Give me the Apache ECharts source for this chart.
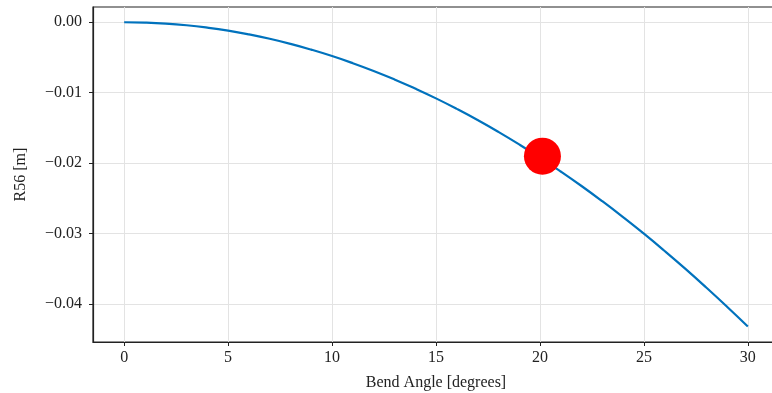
<!DOCTYPE html>
<html>
<head>
<meta charset="utf-8">
<script src="https://cdn.jsdelivr.net/npm/echarts@6/dist/echarts.min.js"></script>
<style>
  html, body { margin: 0; padding: 0; background: #fff; }
  #chart { width: 772px; height: 393px; }
</style>
</head>
<body>
<div id="chart"></div>
<script>
// bend angle in degrees
var angles = [0, 1, 2, 3, 4, 5, 6, 7, 8, 9, 10, 11, 12, 13, 14, 15,
  16, 17, 18, 19, 20, 21, 22, 23, 24, 25, 26, 27, 28, 29, 30];
// R56 in metres
var r56 = [0, -0.00005, -0.00019, -0.00043, -0.00077, -0.00120, -0.00173,
  -0.00235, -0.00307, -0.00389, -0.00480, -0.00581, -0.00691, -0.00811,
  -0.00941, -0.01080, -0.01229, -0.01387, -0.01555, -0.01733, -0.01920,
  -0.02117, -0.02323, -0.02539, -0.02765, -0.03000, -0.03245, -0.03499,
  -0.03763, -0.04035, -0.04315];
// operating point marked in red
var marker = [[20.12, -0.0190]];

var xTicks = [0, 5, 10, 15, 20, 25, 30];
var yTicks = [0, -0.01, -0.02, -0.03, -0.04];

var serif = '"Liberation Serif", "DejaVu Serif", serif';

var chart = echarts.init(document.getElementById('chart'));
var lineData = angles.map(function (a, i) { return [a, r56[i]]; });

var option = {
  animation: false,
  grid: {
    left: 93, top: 7, right: -7, bottom: 51,
    outerBoundsMode: 'none',
    containLabel: false,
    show: true, borderColor: '#222', borderWidth: 1.2,
    backgroundColor: 'transparent'
  },
  xAxis: {
    type: 'value',
    min: -1.5, max: 31.5,
    name: 'Bend Angle [degrees]',
    nameLocation: 'middle',
    nameGap: 33,
    nameTextStyle: { fontFamily: serif, fontSize: 16, color: '#222' },
    axisLine: { onZero: false, lineStyle: { color: '#222', width: 1.2 } },
    axisTick: { length: 4, lineStyle: { color: '#222' }, customValues: xTicks },
    axisLabel: {
      customValues: xTicks, margin: 8,
      fontFamily: serif, fontSize: 16, color: '#222'
    },
    splitLine: { show: true, lineStyle: { color: '#e3e3e3', width: 1 } }
  },
  yAxis: {
    type: 'value',
    min: -0.04536, max: 0.00216,
    name: 'R56 [m]',
    nameLocation: 'middle',
    nameRotate: 90,
    nameGap: 64,
    nameTextStyle: { fontFamily: serif, fontSize: 16, color: '#222' },
    axisLine: { show: true, onZero: false, lineStyle: { color: '#222', width: 1.2 } },
    axisTick: { show: true, length: 4, lineStyle: { color: '#222' }, customValues: yTicks },
    axisLabel: {
      customValues: yTicks, margin: 11,
      fontFamily: serif, fontSize: 16, color: '#222',
      formatter: function (v) { return v.toFixed(2).replace('-', '\u2212'); }
    },
    splitLine: { show: true, lineStyle: { color: '#e3e3e3', width: 1 } }
  },
  series: [
    {
      type: 'line',
      data: lineData,
      smooth: true,
      showSymbol: false,
      lineStyle: { color: '#0072BD', width: 2.2 },
      z: 2
    },
    {
      type: 'scatter',
      data: marker,
      symbolSize: 37,
      itemStyle: { color: '#ff0000', opacity: 1 },
      z: 3
    }
  ]
};

chart.setOption(option);
</script>
</body>
</html>
